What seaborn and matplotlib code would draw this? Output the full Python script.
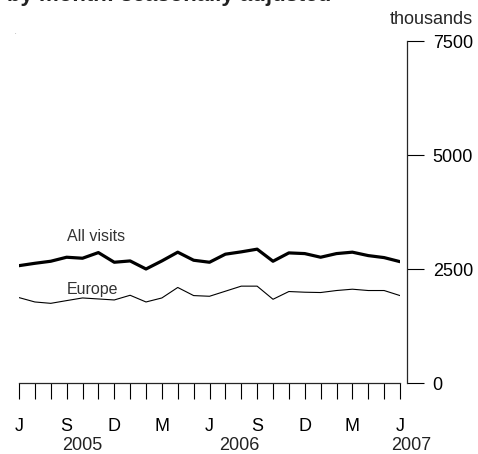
import seaborn as sns
import matplotlib.pyplot as plt
import matplotlib.transforms as mtransforms
import pandas as pd

# months Jun 2005 .. Jun 2007, thousands of visits, seasonally adjusted
months = pd.date_range("2005-06-01", "2007-06-01", freq="MS")
all_visits = [2573, 2625, 2670, 2758, 2736, 2860, 2648, 2677, 2500, 2677,
              2869, 2692, 2648, 2825, 2876, 2935, 2670, 2853, 2838, 2758,
              2838, 2869, 2794, 2750, 2661]
europe = [1873, 1777, 1747, 1807, 1865, 1843, 1821, 1924, 1777, 1865,
          2095, 1917, 1902, 2013, 2124, 2124, 1836, 2006, 1991, 1984,
          2028, 2057, 2028, 2028, 1917]
month_labels = ["J", "S", "D", "M", "J", "S", "D", "M", "J"]
years = ["2005", "2006", "2007"]
y_ticks = [0, 2500, 5000, 7500]

sns.set_style("ticks")
plt.rcParams["font.family"] = ["Liberation Sans", "DejaVu Sans"]

df = pd.DataFrame({"idx": range(len(months)), "All visits": all_visits, "Europe": europe})

fig = plt.figure(figsize=(4.78, 4.54), dpi=100)
ax = fig.add_axes([19 / 478, 71 / 454, 381 / 478, 342 / 454])

sns.lineplot(data=df, x="idx", y="All visits", color="black", linewidth=2.3, ax=ax)
sns.lineplot(data=df, x="idx", y="Europe", color="black", linewidth=0.8, ax=ax)

ax.set_xlim(0, len(months) - 1)
ax.set_ylim(0, 7500)
ax.set_xlabel("")
ax.set_ylabel("")

for s in ["top", "left"]:
    ax.spines[s].set_visible(False)
ax.spines["bottom"].set_linewidth(0.9)
ax.spines["right"].set_linewidth(0.9)
ax.spines["right"].set_position(("outward", 5))
ax.spines["right"].set_bounds(0, 7500)

# x axis: a tick per month, labels every quarter, long ticks at December
ax.set_xticks(range(len(months)))
ax.set_xticklabels([month_labels[i // 3] if i % 3 == 0 else "" for i in range(len(months))])
dec = [i for i, m in enumerate(months) if m.month == 12]
ax.set_xticks(dec, minor=True)
ax.tick_params(axis="x", which="major", direction="out", length=11.5, width=0.8,
               pad=14, labelsize=13, colors="black")
ax.tick_params(axis="x", which="minor", direction="out", length=17, width=1.8)

ax.yaxis.tick_right()
ax.set_yticks(y_ticks)
ax.set_yticklabels([str(v) for v in y_ticks])
ax.tick_params(axis="y", direction="out", length=12, width=0.8, pad=6.5,
               labelsize=13, colors="black")

trans = mtransforms.blended_transform_factory(ax.transData, fig.transFigure)
year_pos = [4.0, 13.9, 24.7]
for yr, xp in zip(years, year_pos):
    ax.text(xp, 1 - 446 / 454, yr, transform=trans, ha="center", va="center",
            fontsize=13, color="#222222")

ax.text(3, 3220, "All visits", fontsize=11.5, color="#333333", ha="left", va="center")
ax.text(3, 2050, "Europe", fontsize=11.5, color="#333333", ha="left", va="center")

fig.text(473 / 478, 1 - 19 / 454, "thousands", ha="right", va="center", fontsize=13)
fig.text(7 / 478, 1 - 1.5 / 454, "by month: seasonally adjusted", ha="left",
         va="baseline", fontsize=16, fontweight="bold", color="#222222")
fig.text(15 / 478, 1 - 32 / 454, ".", ha="center", va="center", fontsize=4, color="#555555")

fig.savefig("out.png", dpi=100)
